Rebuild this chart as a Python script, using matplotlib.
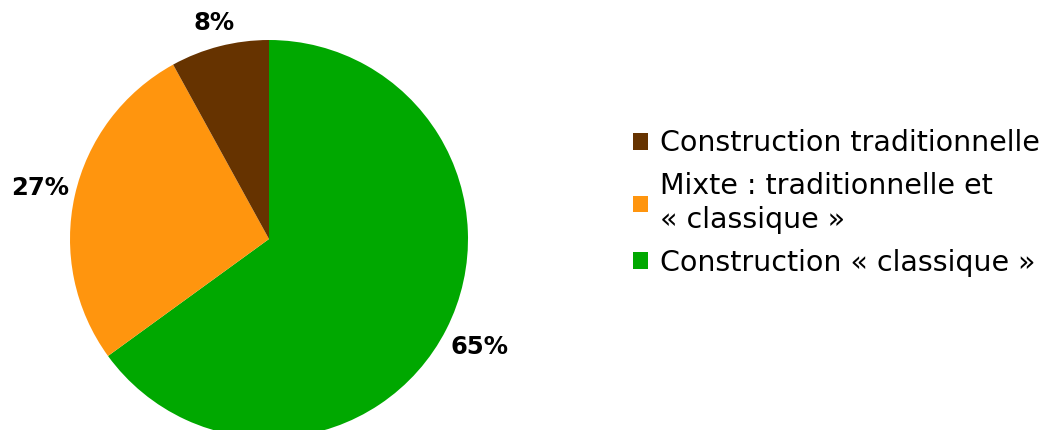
import numpy as np
import matplotlib.pyplot as plt
from matplotlib.patches import Patch

# data (clockwise from 12 o'clock)
labels = ['Construction « classique »',
          'Mixte : traditionnelle et\n« classique »',
          'Construction traditionnelle']
shares = [65, 27, 8]
colors = ['#00a800', '#ff950e', '#663300']
legend_order = [2, 1, 0]
label_dist = [1.19, 1.18, 1.12]

W, H = 1051, 430
fig = plt.figure(figsize=(W / 100, H / 100), dpi=100)
fig.patch.set_facecolor('white')

# pie centred at (269, 239) px, radius 199 px
cx, cy, r = 269, 239, 199
ax = fig.add_axes([(cx - r) / W, (H - cy - r) / H, 2 * r / W, 2 * r / H])
wedges, _ = ax.pie(shares, colors=colors, startangle=90, counterclock=False,
                   radius=1.0, wedgeprops=dict(linewidth=0))
ax.set_xlim(-1, 1)
ax.set_ylim(-1, 1)
ax.set_aspect('equal')
ax.axis('off')

for w, s, d in zip(wedges, shares, label_dist):
    mid = np.deg2rad((w.theta1 + w.theta2) / 2)
    ax.text(d * np.cos(mid), d * np.sin(mid), f'{s}%', ha='center', va='center',
            fontsize=17.5, fontweight='bold', color='black', clip_on=False)

handles = [Patch(facecolor=colors[i], edgecolor='none') for i in legend_order]
leg = fig.legend(handles, [labels[i] for i in legend_order],
                 loc='center left', bbox_to_anchor=(633 / W, 1 - 203 / H),
                 frameon=False, fontsize=20.5, handlelength=0.52, handleheight=0.52,
                 handletextpad=0.42, labelspacing=0.5, borderpad=0, borderaxespad=0)
for t in leg.get_texts():
    t.set_linespacing(1.3)

fig.savefig('out.png', dpi=100, facecolor='white')
